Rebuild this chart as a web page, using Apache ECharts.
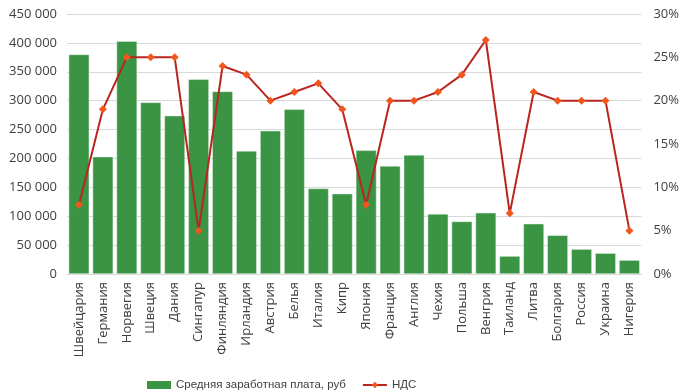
<!DOCTYPE html>
<html><head><meta charset="utf-8">
<script src="https://cdn.jsdelivr.net/npm/echarts@6/dist/echarts.min.js"></script>
<style>html,body{margin:0;padding:0;background:#fff}#c{width:682px;height:392px}</style>
</head><body><div id="c"></div>
<script>
const categories = ['Швейцария','Германия','Норвегия','Швеция','Дания','Сингапур','Финляндия','Ирландия','Австрия','Белья','Италия','Кипр','Япония','Франция','Англия','Чехия','Польша','Венгрия','Таиланд','Литва','Болгария','Россия','Украина','Нигерия'];
const salary = [380000,203000,403000,297000,274000,337000,316000,213000,248000,285000,148000,139000,214000,187000,206000,104000,91000,106000,31000,87000,67000,43000,36000,24000];
const vat = [8,19,25,25,25,5,24,23,20,21,22,19,8,20,20,21,23,27,7,21,20,20,20,5];
const leftTicks = {min:0,max:450000,interval:50000};
const rightTicks = {min:0,max:30,interval:5};

const font = 'Open Sans';
const chart = echarts.init(document.getElementById('c'));
chart.setOption({
  animation:false,
  textStyle:{fontFamily:font},
  grid:{left:67,right:40,top:14,bottom:118},
  legend:{top:374,left:142,itemGap:16,itemStyle:{},textStyle:{fontFamily:'Liberation Sans',fontSize:11.5,color:'#404040'},
    data:[{name:'Средняя заработная плата, руб',icon:'rect',itemStyle:{borderWidth:0}},{name:'НДС'}],
    itemWidth:24,itemHeight:8},
  xAxis:{type:'category',data:categories,
    axisLine:{lineStyle:{color:'#d9d9d9'}},axisTick:{show:false},
    axisLabel:{rotate:90,color:'#404040',fontSize:13,margin:8,interval:0}},
  yAxis:[{type:'value',min:leftTicks.min,max:leftTicks.max,interval:leftTicks.interval,
    axisLabel:{color:'#404040',fontSize:13,margin:10,formatter:v=>String(v).replace(/\B(?=(\d{3})+(?!\d))/g,' ')},
    splitLine:{lineStyle:{color:'#d9d9d9'}},axisLine:{show:false},axisTick:{show:false}},
   {type:'value',min:rightTicks.min,max:rightTicks.max,interval:rightTicks.interval,
    axisLabel:{color:'#404040',fontSize:13,margin:12,formatter:v=>v+'%'},
    splitLine:{show:false},axisLine:{show:false},axisTick:{show:false}}],
  series:[{name:'Средняя заработная плата, руб',type:'bar',data:salary,barCategoryGap:'14%',
    itemStyle:{color:'#3a9444',borderColor:'#e8f2e8',borderWidth:0.5}},
   {name:'НДС',type:'line',yAxisIndex:1,data:vat,symbol:'diamond',symbolSize:8,
    lineStyle:{color:'#b8261e',width:2},itemStyle:{color:'#f2561d'}}]
});
</script></body></html>
